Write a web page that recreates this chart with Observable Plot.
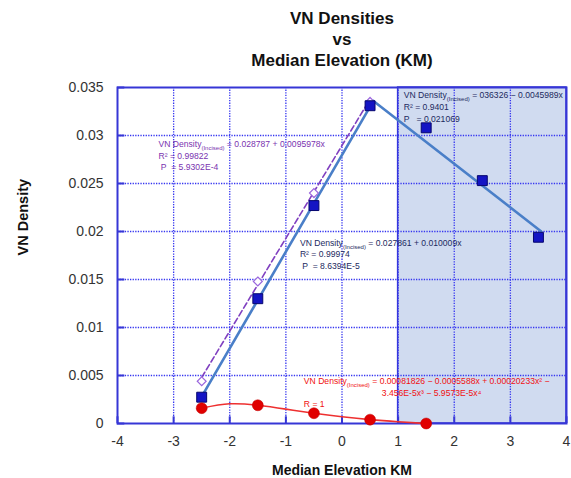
<!DOCTYPE html>
<html><head><meta charset="utf-8">
<script src="https://cdn.jsdelivr.net/npm/d3@7"></script>
<script src="https://cdn.jsdelivr.net/npm/@observablehq/plot@0.6"></script>
<style>body{margin:0;background:#fff} svg{display:block}</style>
</head><body><div id="chart"></div>
<script>
// ---- data ----
const elevation = [-2.5, -1.5, -0.5, 0.5, 1.5, 2.5, 3.5];
const vnAll = [0.00274, 0.0130, 0.0227, 0.0331, 0.0308, 0.0253, 0.0194];
const incElev = [-2.5, -1.5, -0.5, 0.5];
const vnIncised = [0.0044, 0.0148, 0.0240, 0.0335];
const redElev = [-2.5, -1.5, -0.5, 0.5, 1.5];
const vnRed = [0.0016, 0.0019, 0.00107, 0.0004, 0.0];
const curveElev = [-2.5, -2, -1.5, -1, -0.5, 0, 0.5, 1, 1.5];
const curveVn = [0.0016, 0.00205, 0.0019, 0.0015, 0.00107, 0.0007, 0.0004, 0.00018, 0.0];
const fitAllElev = [-2.5, 0.56, 3.55];
const fitAllVn = [0.0028, 0.0336, 0.0200];
const fitIncElev = [-2.5, 0.48];
const fitIncVn = [0.0048, 0.0336];
const xTicks = [-4, -3, -2, -1, 0, 1, 2, 3, 4];
const xTickLabels = ["-4", "-3", "-2", "-1", "0", "1", "2", "3", "4"];
const yTicks = [0, 0.005, 0.01, 0.015, 0.02, 0.025, 0.03, 0.035];
const yTickLabels = ["0", "0.005", "0.01", "0.015", "0.02", "0.025", "0.03", "0.035"];
const shadeRange = [1, 4];
const titleLines = ["VN Densities", "vs", "Median Elevation (KM)"];
const xLabel = "Median Elevation KM";
const yLabel = "VN Density";

// annotations (anchor in data units)
const annText = [
  "VN Density_(Incised) = 0.028787 + 0.0095978x", "R² = 0.99822", " P  = 5.9302E-4",
  "VN Density_(Incised) = 036326 − 0.0045989x", "R² = 0.9401", "P   = 0.021069",
  "VN Density_(Incised) = 0.027861 + 0.010009x", "R² = 0.99974", " P  = 8.6394E-5",
  "VN Density_(Incised) = 0.00081826 − 0.0005588x + 0.00020233x² −", "3.456E-5x³ − 5.9573E-5x⁴", "R = 1"
];
const annX = [-3.27, -3.27, -3.27, 1.10, 1.10, 1.10, -0.75, -0.75, -0.75, -0.68, 0.71, -0.68];
const annY = [0.02906, 0.02786, 0.02667, 0.03417, 0.03292, 0.03167, 0.01875, 0.0176, 0.01635, 0.004375, 0.003125, 0.00198];
const annGroup = ["purple","purple","purple","navy","navy","navy","navy","navy","navy","red","red","red"];

const annColors = {purple: "#7a33b0", navy: "#1c2a60", red: "#f01010"};
const gridBlue = "#3535f0";
const frameBlue = "#3636d6";

const W = 571, H = 478;
const plot = Plot.plot({
  width: W, height: H,
  marginLeft: 117, marginRight: 5, marginTop: 87, marginBottom: 55,
  style: {fontFamily: "'Liberation Sans', Arial, sans-serif", background: "#fff"},
  x: {domain: [xTicks[0], xTicks[xTicks.length - 1]]},
  y: {domain: [yTicks[0], yTicks[yTicks.length - 1]]},
  marks: [
    Plot.rect([shadeRange], {x1: (d) => d[0], x2: (d) => d[1], y1: yTicks[0], y2: yTicks[yTicks.length - 1], fill: "#d0dbf0", stroke: frameBlue, strokeWidth: 1.5}),
    Plot.gridX(xTicks.slice(1, -1), {stroke: gridBlue, strokeOpacity: 1, strokeWidth: 1.3, strokeDasharray: "1.3,1.3"}),
    Plot.gridY(yTicks.slice(1, -1), {stroke: gridBlue, strokeOpacity: 1, strokeWidth: 1.3, strokeDasharray: "1.3,1.3"}),
    Plot.ruleX(xTicks, {y1: 0, y2: 0.0007, stroke: frameBlue, strokeWidth: 2}),
    Plot.ruleY(yTicks, {x1: -4, x2: -3.87, stroke: frameBlue, strokeWidth: 2}),
    Plot.frame({stroke: frameBlue, strokeWidth: 2}),
    Plot.axisX(xTicks, {tickSize: 0, tickPadding: 13, fontSize: 14, color: "#333", label: null,
      tickFormat: (d) => xTickLabels[xTicks.indexOf(d)]}),
    Plot.axisY(yTicks, {tickSize: 0, tickPadding: 14, fontSize: 14, color: "#333", label: null,
      tickFormat: (d) => yTickLabels[yTicks.indexOf(d)]}),
    // fitted lines
    Plot.line(fitIncElev.map((x, i) => ({x, y: fitIncVn[i]})), {x: "x", y: "y", stroke: "#8040c0", strokeWidth: 1.6, strokeDasharray: "6,3"}),
    Plot.line(fitAllElev.map((x, i) => ({x, y: fitAllVn[i]})), {x: "x", y: "y", stroke: "#4a7fc8", strokeWidth: 2.6}),
    Plot.line(curveElev.map((x, i) => ({x, y: curveVn[i]})), {x: "x", y: "y", stroke: "#ee3030", strokeWidth: 1.6, curve: "natural"}),
    // points
    Plot.dot(incElev.map((x, i) => ({x, y: vnIncised[i]})), {x: "x", y: "y", symbol: "diamond2", r: 4, stroke: "#9a66dd", strokeWidth: 1.2, fill: "white"}),
    Plot.dot(elevation.map((x, i) => ({x, y: vnAll[i]})), {x: "x", y: "y", symbol: "square", r: 5.6, fill: "#1414c4", stroke: "#06066e", strokeWidth: 1}),
    Plot.dot(redElev.map((x, i) => ({x, y: vnRed[i]})), {x: "x", y: "y", r: 5.5, fill: "#e00000", stroke: "#c00000", strokeWidth: 0.5}),
    // annotations
    Plot.text(annText.map((t, i) => ({t, x: annX[i], y: annY[i], g: annGroup[i]})), {
      x: "x", y: "y", text: "t", textAnchor: "start", lineAnchor: "middle",
      fill: (d) => annColors[d.g], fontSize: 8.6, fontFamily: "'Liberation Sans', Arial, sans-serif"
    }),
    // titles
    Plot.text(titleLines, {frameAnchor: "top", text: (d) => d, fontSize: 17, fontWeight: "bold", fill: "#111", lineAnchor: "middle"}),
    Plot.text([xLabel], {frameAnchor: "bottom", dy: 47, text: (d) => d, fontSize: 14, fontWeight: "bold", fill: "#111", lineAnchor: "middle"}),
    Plot.text([yLabel], {frameAnchor: "left", dx: -94, rotate: -90, text: (d) => d, fontSize: 14.5, fontWeight: "bold", fill: "#111", lineAnchor: "middle"})
  ]
});
document.getElementById("chart").appendChild(plot);

// position title lines (one shift per line)
const titleOffsets = [-69, -48, -27];
d3.select(plot).selectAll("text").each(function () {
  const t = this.textContent;
  const idx = titleLines.indexOf(t);
  if (idx >= 0 && this.getAttribute("font-size") !== "14") {
    const tr = this.getAttribute("transform") || "";
    const m = /translate\(([-\d.]+),([-\d.]+)\)/.exec(tr);
    if (m) this.setAttribute("transform", `translate(${m[1]},${+m[2] + titleOffsets[idx]})`);
    else this.setAttribute("dy", titleOffsets[idx]);
  }
});

// subscripts "(Incised)"
d3.select(plot).selectAll("text").each(function () {
  const t = this.textContent;
  if (t.includes("_(")) {
    const [a, rest] = t.split("_");
    const close = rest.indexOf(")") + 1;
    const sub = rest.slice(0, close), b = rest.slice(close);
    this.textContent = "";
    const sel = d3.select(this);
    sel.append("tspan").text(a);
    sel.append("tspan").attr("font-size", "6").attr("dy", "2.5").text(sub);
    sel.append("tspan").attr("dy", "-2.5").text(b);
  }
});
</script></body></html>
